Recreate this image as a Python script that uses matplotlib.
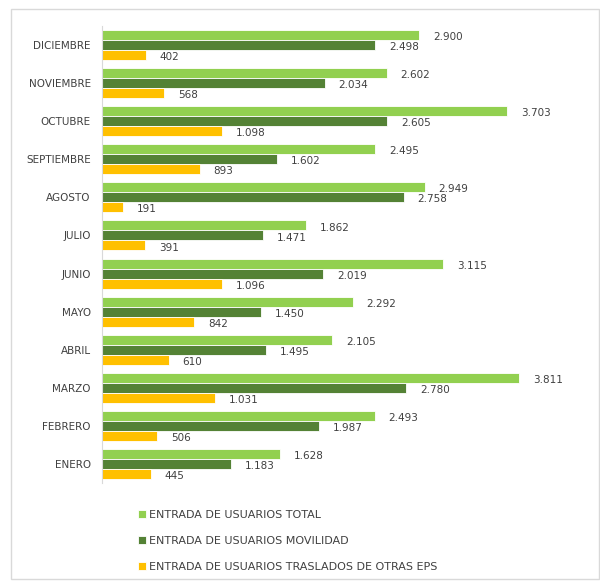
import numpy as np
import matplotlib.pyplot as plt
from matplotlib.patches import Rectangle

meses = ["ENERO", "FEBRERO", "MARZO", "ABRIL", "MAYO", "JUNIO",
         "JULIO", "AGOSTO", "SEPTIEMBRE", "OCTUBRE", "NOVIEMBRE", "DICIEMBRE"]
total = [1628, 2493, 3811, 2105, 2292, 3115, 1862, 2949, 2495, 3703, 2602, 2900]
movilidad = [1183, 1987, 2780, 1495, 1450, 2019, 1471, 2758, 1602, 2605, 2034, 2498]
traslados = [445, 506, 1031, 610, 842, 1096, 391, 191, 893, 1098, 568, 402]

nombres = ["ENTRADA DE USUARIOS TOTAL",
           "ENTRADA DE USUARIOS MOVILIDAD",
           "ENTRADA DE USUARIOS TRASLADOS DE OTRAS EPS"]
colores = ["#92D050", "#548235", "#FFC000"]

fig = plt.figure(figsize=(6.0, 5.81), dpi=100)
fig.patches.append(Rectangle((11 / 600, 2 / 581), 588 / 600, 570 / 581,
                             transform=fig.transFigure, fill=False,
                             edgecolor="#d9d9d9", linewidth=1))

ax = fig.add_axes([102 / 600, 1 - 483 / 581, (585 - 102) / 600, (483 - 26) / 581])

y = np.arange(len(meses))
h = 0.262
series = [total, movilidad, traslados]
offsets = [h, 0, -h]

handles = []
for vals, off, col, name in zip(series, offsets, colores, nombres):
    b = ax.barh(y + off, vals, height=h, color=col, edgecolor="white",
                linewidth=0.6, label=name)
    handles.append(b)
    for yi, v in zip(y, vals):
        ax.annotate(f"{v:,}".replace(",", "."), (v, yi + off),
                    xytext=(10, -1.5), textcoords="offset points",
                    ha="left", va="center", fontsize=7.5, color="#404040")

ax.set_xlim(0, 4415)
ax.set_ylim(-0.5, 11.5)
ax.set_yticks(y)
ax.set_yticklabels(meses, fontsize=7.5, color="#404040")
ax.tick_params(axis="y", length=0, pad=8)
ax.set_xticks([])
for s in ["top", "right", "bottom"]:
    ax.spines[s].set_visible(False)
ax.spines["left"].set_color("#d9d9d9")

leg = fig.legend(handles=handles, labels=nombres, loc="upper left",
                 bbox_to_anchor=(128 / 600, 1 - 500 / 581), frameon=False,
                 fontsize=8, handlelength=0.7, handleheight=0.7,
                 handletextpad=0.3, labelspacing=1.45)
for t in leg.get_texts():
    t.set_color("#404040")

fig.savefig("out.png", dpi=100)
